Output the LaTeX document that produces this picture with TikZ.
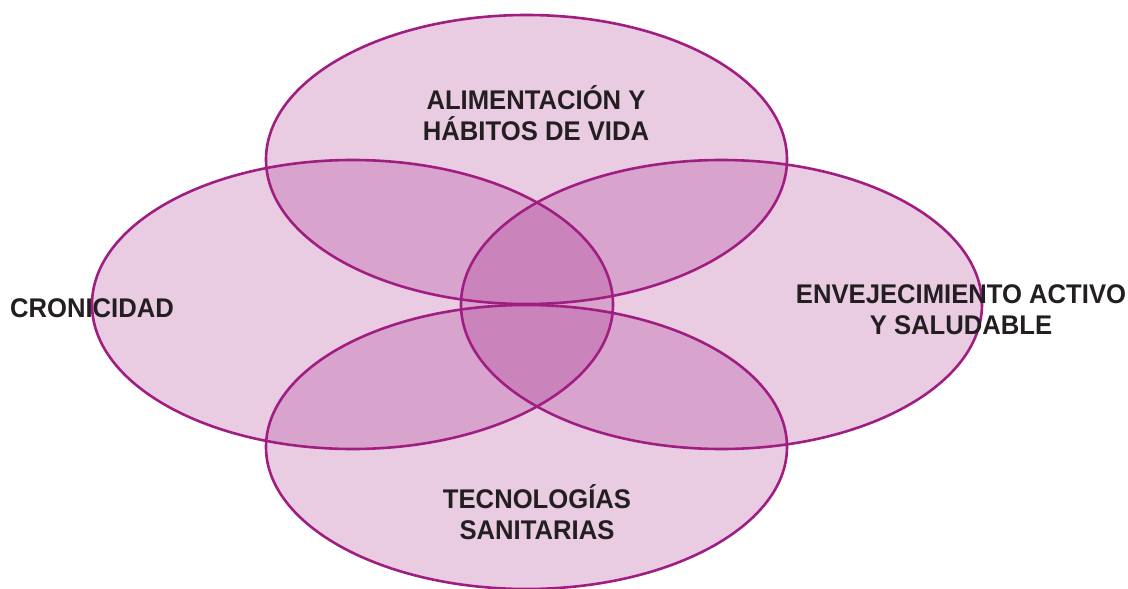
\documentclass[tikz,border=0pt]{standalone}
\usepackage{fontspec}
\setmainfont{Liberation Sans}
\definecolor{vpurple}{RGB}{160,30,130}
\definecolor{vtext}{RGB}{35,31,32}
\begin{document}
\begin{tikzpicture}[x=1pt,y=-1pt,
  lobe/.style={fill=vpurple,fill opacity=0.23},
  rim/.style={draw=vpurple,line width=2.6pt},
  lbl/.style={text=vtext,font=\fontsize{27}{31}\selectfont\bfseries,align=center,inner sep=0pt,xscale=0.95}]
\useasboundingbox (0,0) rectangle (1128,589);
\path[lobe] (526.5,159.5) ellipse [x radius=260.5,y radius=144.5];
\path[lobe] (352.5,304.5) ellipse [x radius=260.5,y radius=144.5];
\path[lobe] (721.5,304.5) ellipse [x radius=260.5,y radius=144.5];
\path[lobe] (526.5,447) ellipse [x radius=260.5,y radius=142];
\draw[rim] (526.5,159.5) ellipse [x radius=260.5,y radius=144.5];
\draw[rim] (352.5,304.5) ellipse [x radius=260.5,y radius=144.5];
\draw[rim] (721.5,304.5) ellipse [x radius=260.5,y radius=144.5];
\draw[rim] (526.5,447) ellipse [x radius=260.5,y radius=142];
\node[lbl] (top) at (536,113) {ALIMENTACIÓN Y\\HÁBITOS DE VIDA};
\node[lbl] (left) at (92,308) {CRONICIDAD};
\node[lbl] (right) at (961,310) {ENVEJECIMIENTO ACTIVO\\Y SALUDABLE};
\node[lbl] (bottom) at (537,512) {TECNOLOGÍAS\\SANITARIAS};
\end{tikzpicture}
\end{document}
